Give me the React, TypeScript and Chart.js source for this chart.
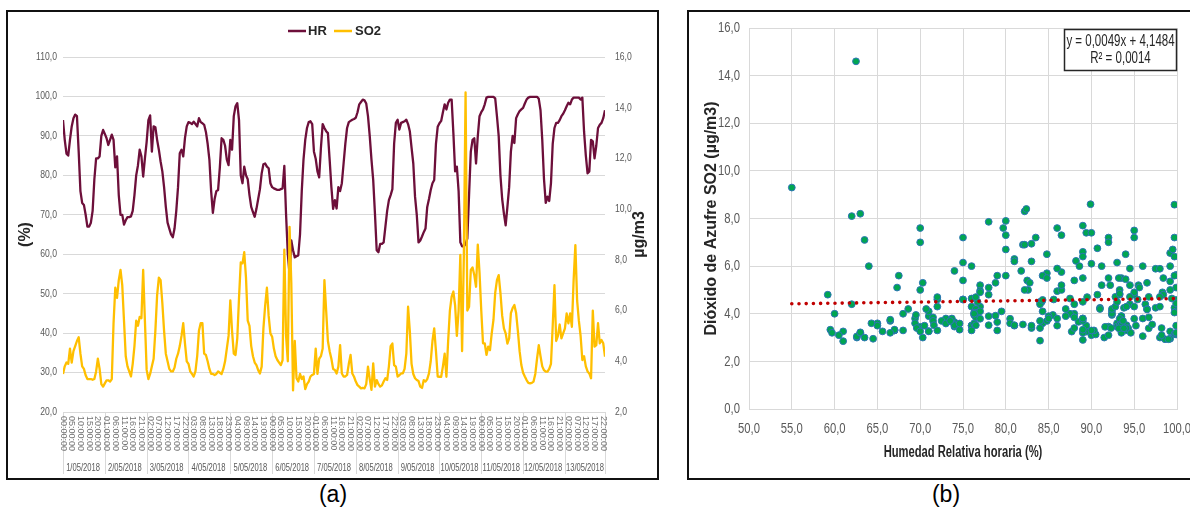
import { useEffect, useRef } from "react";
import { Chart, registerables } from "chart.js";

Chart.register(...registerables);

// Day labels for the multi-level category axis (hourly data, 1–13 May 2018)
const DAYS = [
  "1/05/2018", "2/05/2018", "3/05/2018", "4/05/2018", "5/05/2018", "6/05/2018", "7/05/2018",
  "8/05/2018", "9/05/2018", "10/05/2018", "11/05/2018", "12/05/2018", "13/05/2018",
];

// Hourly relative humidity (%), one row per day
const HR = [
  94, 89, 85.5, 85, 89, 92.4, 94.5, 95.4, 95, 86, 76, 73, 72.5, 70, 67, 67, 68, 71, 79, 84.3, 84.3, 84.8, 90, 91.5,
  90.5, 89.4, 87.7, 89, 90.3, 89, 82, 84.8, 75, 70, 70, 67.5, 68.6, 69.4, 69.4, 69.6, 71, 75, 80, 82.5, 86.5, 84.8, 79.7, 84.3,
  88.5, 94, 95.2, 86, 92.4, 92.2, 89, 86.5, 83.5, 81, 77, 72, 68, 66.5, 65, 64.3, 66.5, 71, 77, 85.6, 86.5, 84.8, 89.5, 92.4,
  93.5, 93.3, 93, 93.6, 93, 92.4, 94.5, 93.5, 93.2, 92.8, 91, 88, 84, 76, 70.5, 74, 76, 76.3, 82, 89.4, 89, 87.5, 84, 82.6,
  89, 86.5, 95, 97.5, 98.3, 94, 80, 78, 82.2, 80, 79, 75, 72, 70.7, 69.5, 71.5, 74, 76.5, 80.5, 82.8, 83, 82.2, 81.8, 78,
  77, 76.7, 76.5, 76.3, 76.3, 76.5, 76.7, 82.4, 70, 60, 55, 63.5, 61, 59.2, 59.5, 59.7, 65, 76, 84, 89, 92, 93.5, 93.7, 93,
  86, 84.2, 81, 79.5, 87, 93, 92, 91.2, 90.7, 84, 77, 71.5, 73.7, 71.6, 77, 76, 78, 83, 88, 92, 93.5, 93.8, 94.1, 94.3,
  94.6, 96, 98, 98.6, 99.2, 99, 98.2, 95, 90, 84, 78.8, 70.3, 61, 60.5, 62.6, 62.6, 63, 67, 71, 73.7, 75, 76.5, 88, 93.3,
  94.1, 91.6, 93.3, 93.5, 93.7, 94.1, 93, 91.2, 87, 83, 74.6, 70, 63, 63.5, 64.5, 65.6, 66.5, 72, 74, 76.3, 78, 78.8, 88, 92.3,
  93.2, 93.8, 96, 98, 96.7, 98.4, 99.2, 99.2, 90.7, 81, 82.2, 76, 63, 62, 62, 62.5, 64, 75, 86, 89, 89.4, 83, 89.9, 95,
  96, 96.7, 98, 99.7, 99.9, 99.9, 99.9, 99.9, 99.5, 95, 90, 80, 74, 70.3, 67.3, 72, 77, 86, 90, 88.2, 94.5, 95.5, 96.3, 96.7,
  97.1, 98.2, 99.2, 99.7, 99.9, 99.9, 99.9, 99.9, 99.9, 99.4, 96.5, 89, 79, 73, 74.6, 73.5, 78, 88, 92, 93.3, 93.3, 94, 95, 95.6,
  96.5, 97.5, 98.4, 98, 99.2, 99.7, 99.7, 99.7, 99.7, 99.2, 99.7, 91, 85, 80.5, 81, 89, 88.6, 84.3, 87.5, 92, 92.8, 93.3, 94.5, 96.5,
];

// Hourly sulphur dioxide (µg/m3), one row per day
const SO2 = [
  3.5, 3.8, 3.95, 3.9, 4.5, 3.95, 4.4, 4.6, 4.8, 4.95, 4.3, 3.8, 3.7, 3.45, 3.3, 3.3, 3.3, 3.27, 3.3, 3.6, 4.1, 3.7, 3.1, 3.0,
  3.13, 3.25, 3.25, 3.2, 3.3, 5.5, 6.9, 6.5, 7.2, 7.6, 7.0, 5.6, 4.2, 3.8, 3.6, 3.4, 3.9, 4.6, 5.6, 5.4, 5.75, 5.7, 7.6, 5.6,
  3.66, 3.3, 3.5, 3.8, 4.1, 5.2, 6.6, 7.3, 7.2, 6.3, 5.2, 4.3, 4.0, 3.7, 3.6, 3.6, 3.75, 4.1, 4.3, 4.6, 5.0, 5.5, 4.7, 4.0,
  3.9, 3.6, 3.5, 3.4, 3.6, 4.2, 5.2, 5.5, 5.5, 4.3, 4.25, 4.0, 3.7, 3.5, 3.5, 3.46, 3.5, 3.6, 3.55, 3.5, 3.7, 4.0, 4.5, 5.0,
  6.4, 5.2, 4.3, 4.25, 4.9, 6.5, 7.9, 7.86, 8.3, 7.3, 5.6, 5.4, 4.6, 4.2, 3.95, 3.85, 3.65, 3.52, 3.79, 5.3, 6.2, 6.9, 5.8, 5.1,
  4.97, 4.5, 4.2, 4.05, 3.95, 3.85, 4.05, 8.4, 5.0, 4.0, 9.3, 7.1, 2.85, 4.8, 3.33, 3.2, 3.5, 3.3, 3.4, 2.9, 3.1, 3.2, 3.4, 3.46,
  3.5, 4.5, 3.5, 4.1, 4.2, 4.5, 7.2, 6.0, 4.8, 4.4, 4.1, 3.7, 3.66, 3.52, 3.79, 4.64, 3.52, 3.4, 3.4, 3.46, 3.9, 4.25, 3.52, 3.39,
  3.2, 3.06, 3.0, 2.93, 2.95, 2.93, 3.1, 3.79, 3.3, 2.87, 3.92, 3.0, 3.26, 3.1, 3.0, 3.05, 3.2, 3.33, 3.26, 3.8, 4.6, 4.7, 3.85, 3.79,
  3.4, 3.45, 3.52, 3.52, 3.7, 4.3, 6.15, 5.2, 3.9, 3.5, 3.33, 3.26, 3.22, 3.0, 2.95, 3.26, 3.2, 3.3, 3.52, 4.0, 4.8, 5.3, 4.4, 3.4,
  3.39, 3.39, 3.8, 4.3, 3.39, 4.8, 6.0, 6.55, 6.75, 6.2, 5.0, 6.0, 8.2, 4.4, 8.1, 14.6, 6.0, 6.15, 7.6, 7.7, 7.4, 6.94, 8.6, 7.5,
  6.0, 4.71, 4.71, 4.25, 4.58, 4.44, 5.1, 5.63, 6.7, 7.2, 7.4, 6.7, 5.8, 5.3, 5.1, 4.7, 4.9, 5.9, 6.1, 6.22, 5.9, 5.2, 4.4, 3.85,
  3.55, 3.4, 3.26, 3.15, 3.13, 3.15, 3.2, 3.5, 4.1, 4.64, 4.2, 3.8, 3.65, 3.59, 3.59, 3.7, 3.9, 5.4, 7.0, 4.8, 5.0, 5.45, 4.9, 5.1,
  5.3, 5.89, 5.5, 5.89, 5.36, 7.2, 8.58, 6.4, 5.6, 5.0, 4.05, 4.2, 3.8, 3.6, 3.52, 3.33, 6.0, 4.58, 4.64, 5.5, 4.71, 4.84, 4.71, 4.18,
];

// Hour-of-day label every 5 hours along the time axis
const HOUR_LABEL_STEP = 5;

// Linear fit reported for SO2 against relative humidity
const TREND_SLOPE = 0.0049;
const TREND_INTERCEPT = 4.1484;
const TREND_R2 = 0.0014;

const SANS = '"Liberation Sans", Arial, sans-serif';
const TICK = "#595959";
const GRID = "#d9d9d9";
const HR_COLOR = "#6d0f3a";
const SO2_COLOR = "#ffbf00";

const fmt = (v: number, d = 1) => v.toFixed(d).replace(".", ",");
const pad2 = (n: number) => String(n).padStart(2, "0");

type TextOpts = {
  font: string;
  color?: string;
  align?: CanvasTextAlign;
  base?: CanvasTextBaseline;
  rot?: number;
  sx?: number;
};

function text(ctx: CanvasRenderingContext2D, s: string, x: number, y: number, o: TextOpts) {
  ctx.save();
  ctx.translate(x, y);
  if (o.rot) ctx.rotate(o.rot);
  if (o.sx && o.sx !== 1) ctx.scale(o.sx, 1);
  ctx.font = o.font;
  ctx.fillStyle = o.color ?? TICK;
  ctx.textAlign = o.align ?? "center";
  ctx.textBaseline = o.base ?? "middle";
  ctx.fillText(s, 0, 0);
  ctx.restore();
}

// Panel (a): axis labels, multi-level time axis and legend
const timeDecor = {
  id: "timeDecor",
  afterDraw(chart: any) {
    const { ctx, chartArea: a, scales } = chart;
    const { x, y, y2 } = scales;
    const small = `10.5px ${SANS}`;

    y.ticks.forEach((t: any) =>
      text(ctx, fmt(t.value), a.left - 6, y.getPixelForValue(t.value), { font: small, align: "right", sx: 0.82 })
    );
    y2.ticks.forEach((t: any) =>
      text(ctx, fmt(t.value), a.right + 10, y2.getPixelForValue(t.value), { font: small, align: "left", sx: 0.82 })
    );

    // day separators below the axis
    ctx.save();
    ctx.strokeStyle = GRID;
    ctx.lineWidth = 1;
    for (let d = 0; d <= DAYS.length; d++) {
      const px = Math.round(Math.min(x.getPixelForValue(d * 24), a.right)) + 0.5;
      ctx.beginPath();
      ctx.moveTo(px, a.bottom);
      ctx.lineTo(px, a.bottom + 62);
      ctx.stroke();
    }
    ctx.restore();

    for (let i = 0; i < HR.length; i += HOUR_LABEL_STEP) {
      text(ctx, `${pad2(i % 24)}:00:00`, x.getPixelForValue(i), a.bottom + 4, {
        font: `9px ${SANS}`,
        color: "#737373",
        align: "left",
        rot: Math.PI / 2,
      });
    }
    DAYS.forEach((d, k) =>
      text(ctx, d, x.getPixelForValue(k * 24 + 11.5), a.bottom + 56, { font: `10px ${SANS}`, sx: 0.76 })
    );

    // legend
    const ly = 19;
    ctx.save();
    ctx.lineWidth = 2.5;
    ctx.strokeStyle = HR_COLOR;
    ctx.beginPath();
    ctx.moveTo(280, ly);
    ctx.lineTo(298, ly);
    ctx.stroke();
    ctx.strokeStyle = SO2_COLOR;
    ctx.beginPath();
    ctx.moveTo(326, ly);
    ctx.lineTo(344, ly);
    ctx.stroke();
    ctx.restore();
    text(ctx, "HR", 300, ly, { font: `bold 13px ${SANS}`, color: "#262626", align: "left" });
    text(ctx, "SO2", 347, ly, { font: `bold 13px ${SANS}`, color: "#262626", align: "left" });

    const cy = (a.top + a.bottom) / 2;
    text(ctx, "(%)", 18, cy, { font: `bold 16px ${SANS}`, color: "#262626", rot: -Math.PI / 2 });
    text(ctx, "µg/m3", 632, cy, { font: `bold 16px ${SANS}`, color: "#262626", rot: -Math.PI / 2 });
  },
};

// Panel (b): tick labels, axis titles and the regression box
const scatterDecor = {
  id: "scatterDecor",
  afterDraw(chart: any) {
    const { ctx, chartArea: a, scales } = chart;
    const { x, y } = scales;
    const tickFont = `15px ${SANS}`;

    y.ticks.forEach((t: any) =>
      text(ctx, fmt(t.value), a.left - 9, y.getPixelForValue(t.value), { font: tickFont, align: "right", sx: 0.75 })
    );
    x.ticks.forEach((t: any) =>
      text(ctx, fmt(t.value), x.getPixelForValue(t.value), a.bottom + 20, { font: tickFont, sx: 0.75 })
    );

    text(ctx, "Humedad Relativa horaria (%)", (a.left + a.right) / 2, a.bottom + 44, {
      font: `bold 16px ${SANS}`,
      color: "#262626",
      sx: 0.7,
    });
    text(ctx, "Dióxido de Azufre SO2 (µg/m3)", 23, (a.top + a.bottom) / 2, {
      font: `bold 16px ${SANS}`,
      color: "#262626",
      rot: -Math.PI / 2,
    });

    // regression label
    const bw = 113;
    const bh = 42;
    const bx = a.right - bw;
    const by = a.top + 1;
    ctx.save();
    ctx.fillStyle = "#ffffff";
    ctx.fillRect(bx, by, bw, bh);
    ctx.strokeStyle = "#262626";
    ctx.lineWidth = 1.5;
    ctx.strokeRect(bx + 0.5, by + 0.5, bw - 1, bh - 1);
    ctx.restore();
    const eq = `y = ${fmt(TREND_SLOPE, 4)}x + ${fmt(TREND_INTERCEPT, 4)}`;
    text(ctx, eq, bx + bw / 2, by + 13, { font: `16px ${SANS}`, color: "#262626", sx: 0.72 });
    text(ctx, `R² = ${fmt(TREND_R2, 4)}`, bx + bw / 2, by + 30, { font: `16px ${SANS}`, color: "#262626", sx: 0.72 });
  },
};

export default function App() {
  const refA = useRef<HTMLCanvasElement>(null);
  const refB = useRef<HTMLCanvasElement>(null);

  useEffect(() => {
    const hrPts = HR.map((v, i) => ({ x: i, y: v }));
    const so2Pts = SO2.map((v, i) => ({ x: i, y: v }));

    const chartA = new Chart(refA.current!, {
      type: "line",
      data: {
        datasets: [
          {
            label: "HR",
            data: hrPts,
            yAxisID: "y",
            borderColor: HR_COLOR,
            borderWidth: 2.3,
            pointRadius: 0,
            borderJoinStyle: "round",
            order: 1,
          },
          {
            label: "SO2",
            data: so2Pts,
            yAxisID: "y2",
            borderColor: SO2_COLOR,
            borderWidth: 2.3,
            pointRadius: 0,
            borderJoinStyle: "round",
            order: 0,
          },
        ],
      },
      options: {
        responsive: false,
        animation: false,
        events: [],
        layout: { padding: { top: 45, left: 0, right: 0, bottom: 0 } },
        plugins: { legend: { display: false }, tooltip: { enabled: false } },
        scales: {
          x: {
            type: "linear",
            min: 0,
            max: HR.length - 1,
            ticks: { display: false },
            grid: { display: false, drawTicks: false },
            border: { display: true, color: GRID },
            afterFit: (s: any) => {
              s.height = 66;
            },
          },
          y: {
            position: "left",
            min: 20,
            max: 110,
            ticks: { stepSize: 10, display: false },
            grid: { color: GRID, drawTicks: false },
            border: { display: false },
            afterFit: (s: any) => {
              s.width = 55;
            },
          },
          y2: {
            position: "right",
            min: 2,
            max: 16,
            ticks: { stepSize: 2, display: false },
            grid: { display: false, drawTicks: false },
            border: { display: false },
            afterFit: (s: any) => {
              s.width = 52;
            },
          },
        },
      },
      plugins: [timeDecor],
    } as any);

    const pairs = HR.map((h, i) => ({ x: h, y: SO2[i] }));
    const xLo = Math.min(...HR);
    const xHi = Math.max(...HR);
    const trend = [xLo, xHi].map((v) => ({ x: v, y: TREND_SLOPE * v + TREND_INTERCEPT }));

    const chartB = new Chart(refB.current!, {
      type: "scatter",
      data: {
        datasets: [
          {
            label: "SO2 vs HR",
            data: pairs,
            pointRadius: 3.4,
            pointBackgroundColor: "#00a651",
            pointBorderColor: "#2e75b6",
            pointBorderWidth: 1,
            order: 1,
          },
          {
            type: "line",
            label: "Lineal",
            data: trend,
            borderColor: "#c00000",
            borderWidth: 3.6,
            borderDash: [0, 7.2],
            borderCapStyle: "round",
            pointRadius: 0,
            showLine: true,
            order: 0,
          },
        ],
      },
      options: {
        responsive: false,
        animation: false,
        events: [],
        layout: { padding: { top: 16, left: 0, right: 13, bottom: 0 } },
        plugins: { legend: { display: false }, tooltip: { enabled: false } },
        scales: {
          x: {
            type: "linear",
            min: 50,
            max: 100,
            ticks: { stepSize: 5, display: false },
            grid: { color: GRID, drawTicks: false },
            border: { color: GRID },
            afterFit: (s: any) => {
              s.height = 69;
            },
          },
          y: {
            min: 0,
            max: 16,
            ticks: { stepSize: 2, display: false },
            grid: { color: GRID, drawTicks: false },
            border: { color: GRID },
            afterFit: (s: any) => {
              s.width = 60;
            },
          },
        },
      },
      plugins: [scatterDecor],
    } as any);

    return () => {
      chartA.destroy();
      chartB.destroy();
    };
  }, []);

  const caption = {
    position: "absolute" as const,
    top: 480,
    width: 100,
    height: 28,
    lineHeight: "28px",
    fontSize: 23,
    textAlign: "center" as const,
    color: "#000",
    fontFamily: SANS,
  };

  return (
    <div style={{ position: "absolute", left: 0, top: 0, width: 1190, height: 508, background: "#fff", overflow: "hidden" }}>
      <div style={{ position: "absolute", left: 6, top: 10, width: 653, height: 470, border: "2px solid #111", boxSizing: "border-box" }} />
      <div style={{ position: "absolute", left: 687, top: 10, width: 540, height: 470, border: "2px solid #111", boxSizing: "border-box" }} />
      <canvas ref={refA} width={649} height={466} style={{ position: "absolute", left: 8, top: 12 }} />
      <canvas ref={refB} width={501} height={466} style={{ position: "absolute", left: 689, top: 12 }} />
      <div style={{ ...caption, left: 283 }}>(a)</div>
      <div style={{ ...caption, left: 896 }}>(b)</div>
    </div>
  );
}
